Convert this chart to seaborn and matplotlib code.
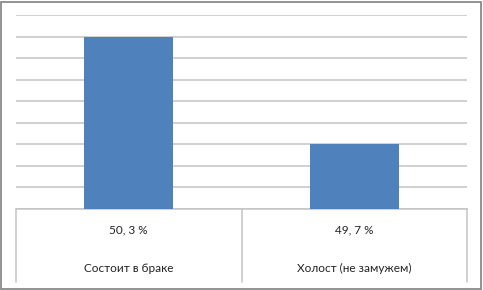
import matplotlib
matplotlib.use("Agg")
import matplotlib.pyplot as plt
import matplotlib.transforms as mtransforms
from matplotlib.lines import Line2D
from matplotlib.patches import Rectangle
import seaborn as sns
import pandas as pd

categories = ["Состоит в браке", "Холост (не замужем)"]
bar_heights = [8, 3]
value_labels = ["50, 3 %", "49, 7 %"]
y_max = 9

sns.set_theme(style="white")
plt.rcParams['font.family'] = ['Lato', 'DejaVu Sans']

W, H = 483, 290
fig = plt.figure(figsize=(W / 100, H / 100), dpi=100)
fig.patch.set_facecolor("white")

left, right, top, bottom = 16, 467, 15, 208.5
ax = fig.add_axes([left / W, (H - bottom) / H, (right - left) / W, (bottom - top) / H])

df = pd.DataFrame({"cat": categories, "val": bar_heights})
sns.barplot(data=df, x="cat", y="val", color="#4F81BD", saturation=1, width=0.395,
            ax=ax, zorder=3, edgecolor="#4F81BD", linewidth=0)

ax.set_xlim(-0.5, len(categories) - 0.5)
ax.set_ylim(0, y_max)
ax.set_yticks(range(0, y_max + 1))
ax.yaxis.grid(True, color="#c4c4c4", linewidth=1.1, zorder=0)
ax.set_axisbelow(True)
ax.set_yticklabels([])
ax.set_xticks([])
ax.set_xlabel("")
ax.set_ylabel("")
ax.tick_params(length=0)
for s in ["top", "right", "left"]:
    ax.spines[s].set_visible(False)
ax.spines["bottom"].set_color("#c4c4c4")
ax.spines["bottom"].set_linewidth(1.1)

# data table below the axis
tb = 282 / H
ax_bottom = (H - bottom) / H
line_kw = dict(color="#c4c4c4", linewidth=1.1, transform=fig.transFigure)
for xb in [left, (left + right) / 2, right]:
    fig.add_artist(Line2D([xb / W, xb / W], [ax_bottom, 1 - tb], **line_kw))

trans = mtransforms.blended_transform_factory(ax.transData, fig.transFigure)
for i, (cat, lab) in enumerate(zip(categories, value_labels)):
    ax.text(i, 1 - 230 / H, lab, transform=trans, ha="center", va="center",
            fontsize=8.5, color="#222222", clip_on=False)
    ax.text(i, 1 - 268 / H, cat, transform=trans, ha="center", va="center",
            fontsize=8.5, color="#222222", clip_on=False)

# outer frame
fig.add_artist(Rectangle((0.8 / W, 1.5 / H), (W - 3) / W, (H - 3) / H, fill=False,
                         edgecolor="#8a8a8a", linewidth=1.3, transform=fig.transFigure))

fig.savefig("out.png", dpi=100, facecolor="white")
